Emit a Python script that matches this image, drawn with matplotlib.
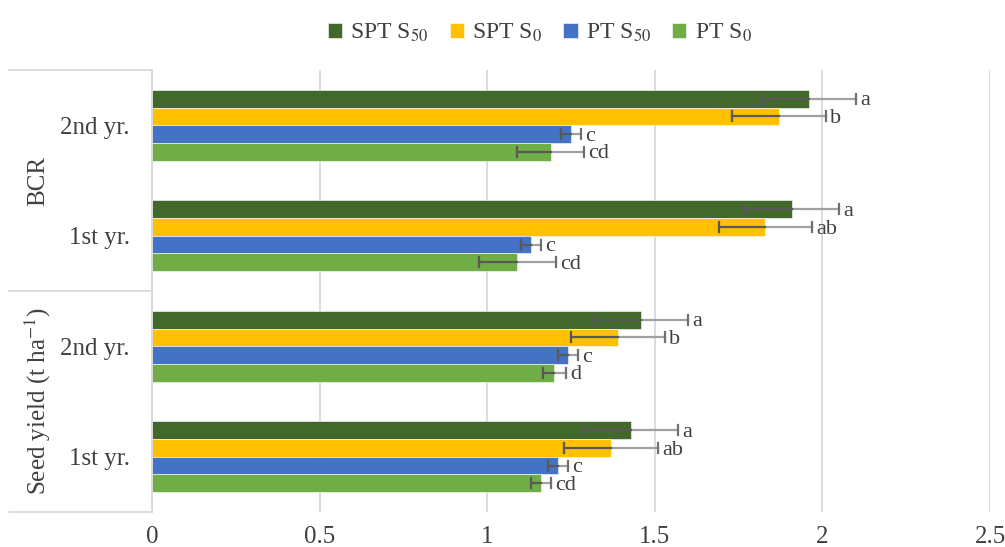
import matplotlib.pyplot as plt
import numpy as np

plt.rcParams["font.family"] = ["Liberation Serif", "DejaVu Serif"]
plt.rcParams["mathtext.fontset"] = "stix"

# categories from bottom to top
categories = ["1st yr.", "2nd yr.", "1st yr.", "2nd yr."]
groups = ["Seed yield (t ha$^{-1}$)", "BCR"]

series = ["SPT S$_{50}$", "SPT S$_0$", "PT S$_{50}$", "PT S$_0$"]
colors = ["#43682b", "#ffc000", "#4472c4", "#70ad47"]

spt_s50 = [1.43, 1.46, 1.91, 1.96]
spt_s0 = [1.37, 1.39, 1.83, 1.87]
pt_s50 = [1.21, 1.24, 1.13, 1.25]
pt_s0 = [1.16, 1.20, 1.09, 1.19]

spt_s50_err = [0.14, 0.14, 0.14, 0.14]
spt_s0_err = [0.14, 0.14, 0.14, 0.14]
pt_s50_err = [0.03, 0.03, 0.03, 0.03]
pt_s0_err = [0.03, 0.035, 0.115, 0.10]

spt_s50_lab = ["a", "a", "a", "a"]
spt_s0_lab = ["ab", "b", "ab", "b"]
pt_s50_lab = ["c", "c", "c", "c"]
pt_s0_lab = ["cd", "d", "cd", "cd"]

values = [spt_s50, spt_s0, pt_s50, pt_s0]
errors = [spt_s50_err, spt_s0_err, pt_s50_err, pt_s0_err]
letters = [spt_s50_lab, spt_s0_lab, pt_s50_lab, pt_s0_lab]

fs = 18
txt = "#404040"

fig = plt.figure(figsize=(10.05, 5.47), dpi=100)
ax = fig.add_axes([0.1512, 0.064, 0.834, 0.808])

y = np.arange(len(categories))
h = 0.16
offsets = [1.5 * h, 0.5 * h, -0.5 * h, -1.5 * h]

for vals, errs, labs, col, off, name in zip(values, errors, letters, colors, offsets, series):
    yy = y + off
    ax.barh(yy, vals, height=h, color=col, edgecolor="white", linewidth=0.4, label=name, zorder=2)
    for v, e, l, yi in zip(vals, errs, labs, yy):
        # plus part lighter, minus part darker
        ax.plot([v, v + e], [yi, yi], color="#a0a0a0", lw=1.6, zorder=3)
        ax.plot([v - e, v], [yi, yi], color="#595959", lw=1.6, zorder=3)
        ax.plot([v + e, v + e], [yi - 0.045, yi + 0.045], color="#707070", lw=1.6, zorder=3)
        ax.plot([v - e, v - e], [yi - 0.045, yi + 0.045], color="#595959", lw=1.6, zorder=3)
        ax.text(v + e + 0.012, yi - 0.02, l, fontsize=16, color=txt, va="center", ha="left", zorder=4)

ax.set_xlim(0, 2.5)
ax.set_ylim(-0.5, 3.5)
ax.set_xticks(np.arange(0, 2.51, 0.5))
ax.set_xticklabels(["0", "0.5", "1", "1.5", "2", "2.5"], fontsize=fs, color=txt)
ax.tick_params(axis="x", length=0, pad=10)
ax.set_yticks(y)
ax.set_yticklabels(categories, fontsize=fs, color=txt)
ax.tick_params(axis="y", length=0, pad=16)
ax.grid(axis="x", color="#d9d9d9", lw=1.3, zorder=0)
for s in ["top", "right", "bottom"]:
    ax.spines[s].set_visible(False)
ax.spines["left"].set_color("#d9d9d9")
ax.spines["left"].set_linewidth(1.3)

# group separators on the category axis
for yl in [-0.5, 1.5, 3.5]:
    ax.plot([-0.425, 0], [yl, yl], color="#d9d9d9", lw=1.3, clip_on=False, zorder=1)
for gi, g in enumerate(groups):
    ax.text(-0.34, 0.5 + 2 * gi, g, rotation=90, fontsize=fs, color=txt,
            ha="center", va="center")

handles, labels = ax.get_legend_handles_labels()
fig.legend(handles, labels, loc="center", bbox_to_anchor=(0.537, 0.94), ncol=4, frameon=False,
           fontsize=17, handlelength=0.6, handleheight=0.6, columnspacing=0.9, handletextpad=0.35,
           labelcolor=txt)

fig.savefig("out.png", dpi=100)
